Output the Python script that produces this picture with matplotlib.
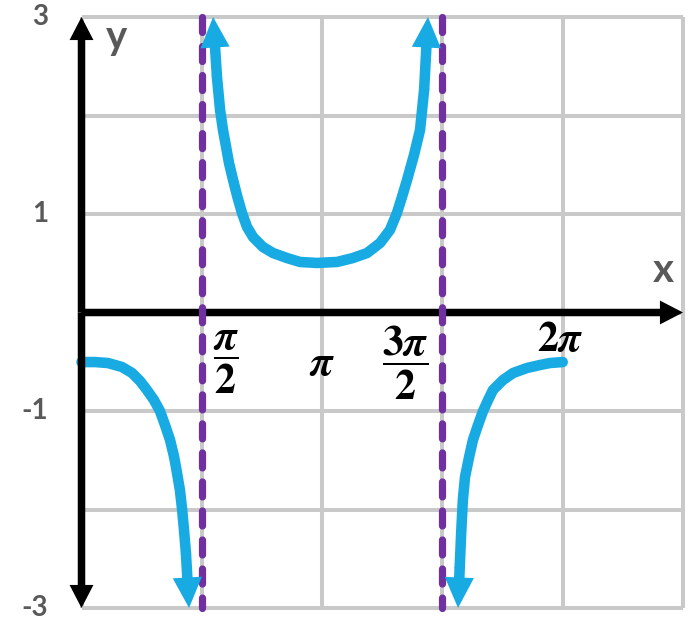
import numpy as np
import matplotlib
matplotlib.use('Agg')
import matplotlib.pyplot as plt

# 曲线数据：x 以 π 为单位
left_x = [0.0, 0.056, 0.110, 0.168, 0.210, 0.243, 0.272, 0.301, 0.326, 0.347,
          0.368, 0.385, 0.397, 0.409, 0.418, 0.426, 0.434, 0.447]
left_y = [-0.503, -0.503, -0.513, -0.553, -0.614, -0.695, -0.787, -0.888, -1.000, -1.142,
          -1.294, -1.467, -1.629, -1.802, -1.995, -2.208, -2.442, -3.0]

mid_x = [0.547, 0.563, 0.576, 0.588, 0.601, 0.613, 0.630, 0.648, 0.667, 0.688,
         0.713, 0.754, 0.796, 0.854, 0.908, 0.979, 1.062, 1.128, 1.187, 1.241,
         1.282, 1.311, 1.332, 1.353, 1.382, 1.407, 1.424, 1.440]
mid_y = [3.0, 2.391, 2.056, 1.853, 1.680, 1.518, 1.345, 1.173, 1.010, 0.868,
         0.766, 0.665, 0.604, 0.553, 0.513, 0.503, 0.513, 0.553, 0.604, 0.706,
         0.838, 1.010, 1.173, 1.345, 1.599, 1.853, 2.259, 3.0]

right_x = [2.0, 1.947, 1.906, 1.852, 1.794, 1.752, 1.710, 1.690, 1.669, 1.648,
           1.627, 1.611, 1.594, 1.585, 1.578, 1.572, 1.565]
right_y = [-0.503, -0.513, -0.533, -0.563, -0.614, -0.685, -0.787, -0.888, -1.000, -1.142,
           -1.294, -1.467, -1.670, -1.904, -2.239, -2.584, -3.0]

asymptotes = [0.5, 1.5]
grid_x = [0.0, 0.5, 1.0, 1.5, 2.0, 2.5]
grid_y = [-3, -2, -1, 0, 1, 2, 3]
x_ticks = [0.5, 1.0, 1.5, 2.0]
x_tick_labels = [r'$\dfrac{\pi}{2}$', r'$\pi$', r'$\dfrac{3\pi}{2}$', r'$2\pi$']
y_ticks = [3, 1, -1, -3]
y_tick_labels = ['3', '1', '-1', '-3']

plt.rcParams['mathtext.fontset'] = 'custom'
plt.rcParams['mathtext.rm'] = 'STIXGeneral:bold'
plt.rcParams['mathtext.it'] = 'STIXGeneral:italic:bold'
plt.rcParams['mathtext.bf'] = 'STIXGeneral:bold'
plt.rcParams['lines.scale_dashes'] = False

BLUE = '#18ABE3'
PURPLE = '#7030A0'
GRID = '#C9C9C9'
GRAY_TXT = '#595959'
PI = np.pi

fig = plt.figure(figsize=(6.99, 6.27), dpi=100)
ax = fig.add_axes([81.5 / 699, 19 / 627, 601.5 / 699, 591 / 627])
ax.set_xlim(0, 2.5 * PI)
ax.set_ylim(-3, 3)
ax.axis('off')

# 网格
ax.vlines([g * PI for g in grid_x], -3, 3, colors=GRID, lw=2.9, clip_on=False, zorder=1)
ax.hlines(grid_y, 0, 2.5 * PI, colors=GRID, lw=2.9, clip_on=False, zorder=1)

# 坐标轴（带箭头）
ax_arrow = 'simple,head_length=0.83,head_width=0.86,tail_width=0.27'
for tip, zo in [((2.5 * PI, 0), 2), ((0, 3), 5), ((0, -3), 5)]:
    ax.annotate('', xy=tip, xytext=(0, 0), annotation_clip=False,
                arrowprops=dict(arrowstyle=ax_arrow, mutation_scale=20, color='black',
                                lw=0, shrinkA=0, shrinkB=0), zorder=zo)

# 渐近线
for a in asymptotes:
    ax.plot([a * PI, a * PI], [3, -3], color=PURPLE, lw=5.2, dashes=(10.8, 10.1),
            dash_capstyle='round', clip_on=False, zorder=3)

# 曲线
head = 'simple,head_length=1.1,head_width=1.05,tail_width=0.38'
LW = 7.6


def arrow_end(xs, ys, i_tip, i_prev):
    ax.annotate('', xy=(xs[i_tip] * PI, ys[i_tip]), xytext=(xs[i_prev] * PI, ys[i_prev]),
                annotation_clip=False,
                arrowprops=dict(arrowstyle=head, mutation_scale=20, color=BLUE,
                                lw=0, shrinkA=0, shrinkB=0), zorder=4)


lx = np.array(left_x) * PI
ax.plot(lx[:-1], left_y[:-1], color=BLUE, lw=LW, solid_capstyle='round',
        solid_joinstyle='round', clip_on=False, zorder=4)
arrow_end(left_x, left_y, -1, -2)

mx = np.array(mid_x) * PI
ax.plot(mx[1:-1], mid_y[1:-1], color=BLUE, lw=LW, solid_capstyle='round',
        solid_joinstyle='round', clip_on=False, zorder=4)
arrow_end(mid_x, mid_y, 0, 1)
arrow_end(mid_x, mid_y, -1, -2)

rx = np.array(right_x) * PI
ax.plot(rx[:-1], right_y[:-1], color=BLUE, lw=LW, solid_capstyle='round',
        solid_joinstyle='round', clip_on=False, zorder=4)
arrow_end(right_x, right_y, -1, -2)

# y 轴刻度标签
for v, lab in zip(y_ticks, y_tick_labels):
    ax.annotate(lab, xy=(0, v), xytext=(-33.5, 0), textcoords='offset pixels',
                ha='right', va='center', fontsize=20, fontweight='bold',
                color=GRAY_TXT, family=['Lato', 'DejaVu Sans'], annotation_clip=False)

# x 轴刻度标签（π 的分数）
x_offsets = [(24, -50), (0, -50), (-37, -50), (-2, -27)]
for v, lab, off in zip(x_ticks, x_tick_labels, x_offsets):
    ax.annotate(lab, xy=(v * PI, 0), xytext=off, textcoords='offset pixels',
                ha='center', va='center', fontsize=30, color='black',
                annotation_clip=False)

# 坐标轴名称
ax.annotate('y', xy=(0, 3), xytext=(34.5, -21), textcoords='offset pixels',
            ha='center', va='center', fontsize=29, fontweight='bold',
            color=GRAY_TXT, family=['Lato', 'DejaVu Sans'], annotation_clip=False)
ax.annotate('x', xy=(2.5 * PI, 0), xytext=(-20, 42.5), textcoords='offset pixels',
            ha='center', va='center', fontsize=29, fontweight='bold',
            color=GRAY_TXT, family=['Lato', 'DejaVu Sans'], annotation_clip=False)

fig.savefig('out.png', dpi=100)
